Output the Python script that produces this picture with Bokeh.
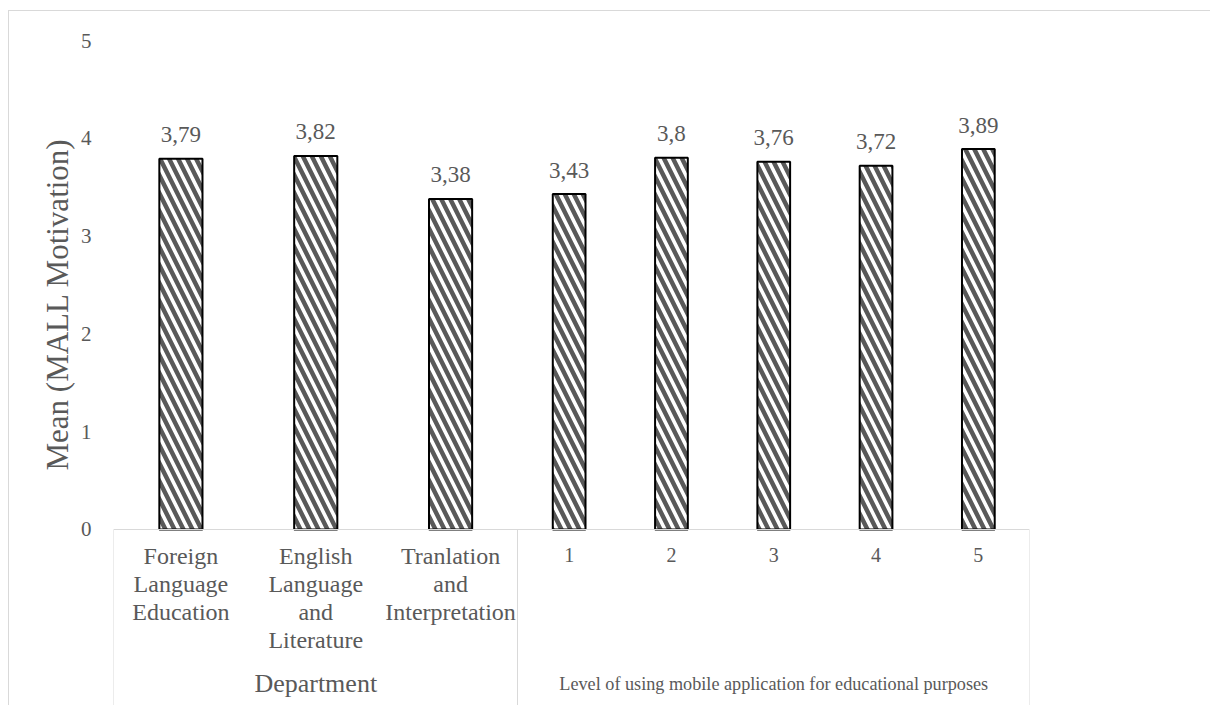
from bokeh.plotting import figure
from bokeh.models import (ColumnDataSource, Range1d, FixedTicker, LinearAxis,
                          Title)
from bokeh.core.properties import value
from bokeh.embed import file_html
from bokeh.resources import INLINE

# --- data -----------------------------------------------------------------
dept_labels = ["Foreign\nLanguage\nEducation",
               "English\nLanguage\nand\nLiterature",
               "Tranlation\nand\nInterpretation"]
dept_means = [3.79, 3.82, 3.38]

level_labels = ["1", "2", "3", "4", "5"]
level_means = [3.43, 3.8, 3.76, 3.72, 3.89]

group_labels = ["Department",
                "Level of using mobile application for educational purposes"]
y_ticks = [0, 1, 2, 3, 4, 5]

# --- layout of the category axis (slot width per group) -------------------
SLOT_DEPT = 134.7
SLOT_LEVEL = 102.2
BAR_FRACTION = 0.32
Y_BOTTOM = -1.81          # room below zero for the category labels

dept_x = [round(SLOT_DEPT * (i + 0.5), 2) for i in range(len(dept_means))]
split = SLOT_DEPT * len(dept_means)
level_x = [round(split + SLOT_LEVEL * (i + 0.5), 2) for i in range(len(level_means))]
total = split + SLOT_LEVEL * len(level_means)

centers = dept_x + level_x
widths = ([SLOT_DEPT * BAR_FRACTION] * len(dept_means)
          + [SLOT_LEVEL * BAR_FRACTION] * len(level_means))
values = dept_means + level_means
value_text = [("%g" % v).replace(".", ",") for v in values]

src = ColumnDataSource(dict(x=centers, w=widths, top=values, txt=value_text))

FONT = "Liberation Serif"
TXT = "#595959"
LINE = "#d9d9d9"

p = figure(width=1202, height=695, output_backend="svg", toolbar_location=None,
           x_range=Range1d(0, total), y_range=Range1d(Y_BOTTOM, 5),
           min_border_left=104, min_border_right=182,
           min_border_top=29, min_border_bottom=0,
           x_axis_location=None, y_axis_location=None,
           styles={"margin-left": "8px", "margin-top": "10px",
                   "border-left": "1px solid " + LINE,
                   "border-top": "1px solid " + LINE})
p.outline_line_color = None
p.xgrid.visible = False
p.ygrid.visible = False
p.background_fill_color = "white"
p.border_fill_color = "white"

# bars with diagonal hatch
p.vbar(x="x", width="w", top="top", bottom=0, source=src,
       fill_color="white", line_color="black", line_width=2,
       hatch_pattern="left_diagonal_line", hatch_color="#595959",
       hatch_scale=18, hatch_weight=4.5)

# value labels above bars
p.text(x="x", y="top", text="txt", source=src, text_align="center",
       text_baseline="alphabetic", y_offset=-24,
       text_font=value(FONT), text_font_size="23px", text_color=TXT)

# y axis
yaxis = LinearAxis(ticker=FixedTicker(ticks=y_ticks, minor_ticks=[]))
yaxis.axis_line_color = None
yaxis.major_tick_line_color = None
yaxis.minor_tick_line_color = None
yaxis.major_tick_out = 0
yaxis.major_tick_in = 0
yaxis.major_label_standoff = 22
yaxis.major_label_text_font = FONT
yaxis.major_label_text_font_size = "21px"
yaxis.major_label_text_color = TXT
p.add_layout(yaxis, "left")

# vertical axis title, started from the lower end of the panel
ytitle = Title(text="Mean (MALL Motivation)", align="left", offset=236,
               text_font=FONT, text_font_size="31px", text_font_style="normal",
               text_color=TXT, standoff=6)
p.add_layout(ytitle, "left")


def label_axis(ticks, labels, size, standoff, line_height=1.2):
    """A bare axis pinned at y=0 that only carries text labels."""
    ax = LinearAxis(ticker=FixedTicker(ticks=ticks, minor_ticks=[]),
                    fixed_location=0)
    ax.major_label_overrides = {t: l for t, l in zip(ticks, labels)}
    ax.axis_line_color = None
    ax.major_tick_line_color = None
    ax.minor_tick_line_color = None
    ax.major_tick_out = 0
    ax.major_tick_in = 0
    ax.major_label_standoff = standoff
    ax.major_label_text_font = FONT
    ax.major_label_text_font_size = size
    ax.major_label_text_color = TXT
    ax.major_label_text_line_height = line_height
    p.add_layout(ax, "below")
    return ax


# category baseline with group dividers hanging below it
base = LinearAxis(ticker=FixedTicker(ticks=[], minor_ticks=[0, split, total]),
                  fixed_location=0)
base.axis_line_color = LINE
base.axis_line_width = 1
base.major_tick_line_color = None
base.minor_tick_line_color = LINE
base.minor_tick_in = 0
base.minor_tick_out = 177
base.major_label_text_font_size = "0px"
p.add_layout(base, "below")

# category labels
label_axis(dept_x, dept_labels, "24px", 14, line_height=1.07)
label_axis(level_x, level_labels, "20px", 19)

# group labels
label_axis([round(split / 2, 2)], group_labels[:1], "26px", 140)
label_axis([round((split + total) / 2, 2)], group_labels[1:], "18.2px", 145)

open("out.html", "w").write(file_html(p, INLINE))
